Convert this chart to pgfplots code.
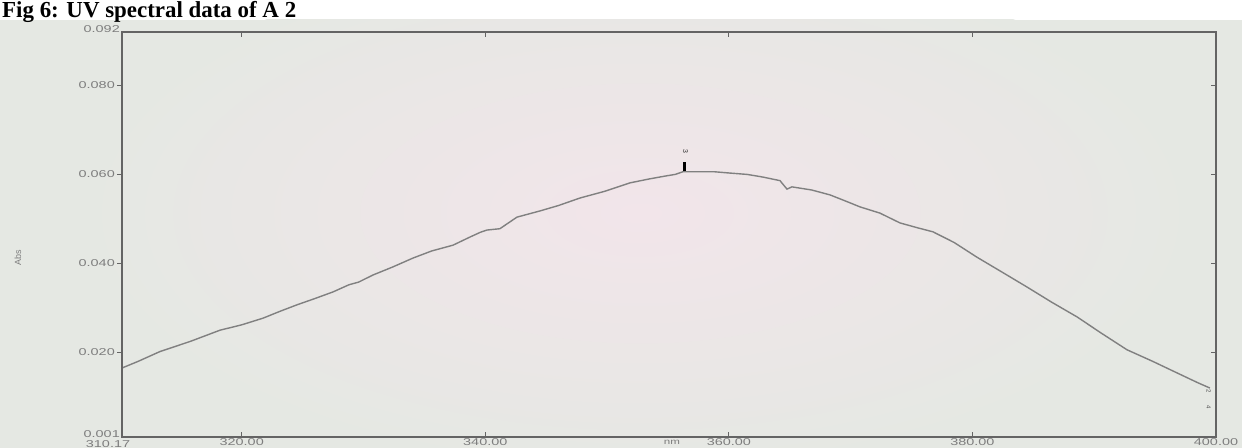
\documentclass[border=0pt]{standalone}
\usepackage{fontspec}
\setmainfont{Liberation Sans}
\newfontfamily\titlefont{Liberation Serif}
\newfontfamily\tickfont[FakeStretch=1.45]{Liberation Sans}
\usepackage{pgfplots}
\pgfplotsset{compat=1.18}
\definecolor{bg}{RGB}{229,232,227}
\definecolor{pinkbg}{RGB}{242,229,234}
\definecolor{curve}{RGB}{128,128,128}
\definecolor{axcol}{RGB}{100,100,100}
\definecolor{lab}{RGB}{125,125,125}
\pgfplotstableread{
x y
310.17 0.0165
311.5 0.0180
313.29 0.0202
315.8 0.0225
318.22 0.0250
320.0 0.0262
321.75 0.0277
323.2 0.0293
324.54 0.0307
326.0 0.0321
327.50 0.0336
328.8 0.0352
329.6 0.0358
330.78 0.0374
332.4 0.0392
334.06 0.0412
335.6 0.0428
337.35 0.0441
338.8 0.0460
339.6 0.0470
340.14 0.0475
341.2 0.0478
342.60 0.0504
344.5 0.0518
346.0 0.0530
347.78 0.0547
349.8 0.0562
351.88 0.0581
353.5 0.0590
354.92 0.0597
355.6 0.0600
356.23 0.0606
357.38 0.0606
358.8 0.0606
360.09 0.0603
361.5 0.0600
362.80 0.0594
364.20 0.0586
364.77 0.0567
365.18 0.0572
366.8 0.0565
368.30 0.0554
369.6 0.0540
370.77 0.0527
372.41 0.0513
374.05 0.0491
375.5 0.0480
376.76 0.0471
378.5 0.0447
380.37 0.0414
382.4 0.0381
384.48 0.0347
386.5 0.0313
388.58 0.0280
390.6 0.0243
392.69 0.0206
394.8 0.0180
396.80 0.0154
398.5 0.0132
399.50 0.0120
}\spectrum
\begin{document}
\begin{tikzpicture}[x=1bp,y=1bp]
\useasboundingbox (0,0) rectangle (1242,448);
\fill[white] (0,0) rectangle (1242,448);
\fill[bg] (0,0) rectangle (1242,428);
\begin{scope}
\clip (0,0) rectangle (1242,428);
\shade[inner color=pinkbg, outer color=bg] (640,235) ellipse (560 and 260);
\end{scope}
\node[anchor=base west, inner sep=0] at (2,430.5) {\titlefont\bfseries\fontsize{23}{23}\selectfont Fig 6: UV spectral data of A 2};
\node[rotate=90, text=lab, font=\fontsize{9}{9}\selectfont] at (18,190) {Abs};
\node[anchor=north, text=lab, inner sep=0, font=\tickfont\fontsize{8}{8}\selectfont] at (672,8) {nm};
% main axis
\begin{axis}[at={(122bp,11bp)}, anchor=south west, scale only axis,
  width=1094bp, height=405bp,
  xmin=310.17, xmax=400, ymin=0.001, ymax=0.092,
  scaled x ticks=false, scaled y ticks=false,
  axis line style={axcol, line width=1.4bp},
  tick style={axcol, line width=1bp},
  tick align=inside, major tick length=5bp,
  xtick={320,340,360,380,400},
  xticklabels={320.00,340.00,360.00,380.00,400.00},
  xtick pos=both, xticklabel pos=left,
  extra x ticks={310.17}, extra x tick labels={310.17},
  extra x tick style={major tick length=0bp, xticklabel style={xshift=-14bp, yshift=-2bp}},
  ytick={0.02,0.04,0.06,0.08}, yticklabels={}, ytick pos=right,
  xticklabel style={anchor=north, inner sep=1bp, text=lab, font=\tickfont\fontsize{10}{10}\selectfont},
  clip=false]
\addplot[curve, line width=1.4bp] table[x=x,y=y] {\spectrum};
\addplot[black, line width=2.2bp] coordinates {(356.36,0.0607) (356.36,0.0627)};
\node[rotate=-90, text=black!80, font=\fontsize{7}{7}\selectfont] at (axis cs:356.45,0.0652) {3};
\node[rotate=-90, text=black!70, font=\fontsize{6}{6}\selectfont] at (axis cs:399.4,0.0114) {2};
\node[rotate=-90, text=black!70, font=\fontsize{6}{6}\selectfont] at (axis cs:399.4,0.0078) {4};
\end{axis}
% left axis with outside ticks and labels
\begin{axis}[at={(122bp,11bp)}, anchor=south west, scale only axis,
  width=1094bp, height=405bp,
  xmin=310.17, xmax=400, ymin=0.001, ymax=0.092,
  scaled x ticks=false, scaled y ticks=false,
  hide x axis, axis y line*=left,
  axis line style={axcol, line width=1.4bp},
  tick style={axcol, line width=1bp},
  tick align=outside, major tick length=5bp,
  ytick={0.02,0.04,0.06,0.08},
  yticklabels={0.020,0.040,0.060,0.080},
  extra y ticks={0.001,0.092}, extra y tick labels={0.001,0.092},
  extra y tick style={major tick length=0bp, yticklabel style={yshift=2.5bp}},
  yticklabel style={anchor=east, inner sep=2bp, text=lab, font=\tickfont\fontsize{10}{10}\selectfont}]
\end{axis}
\end{tikzpicture}
\end{document}
